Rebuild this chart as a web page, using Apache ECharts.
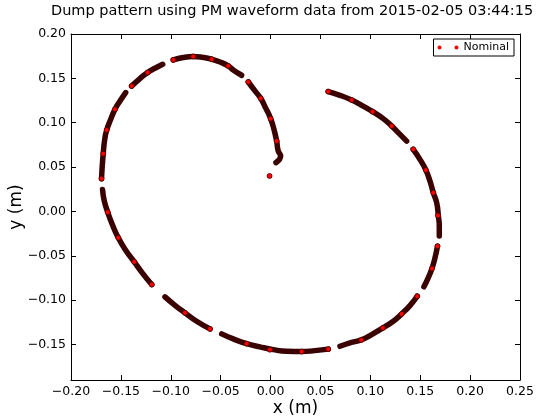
<!DOCTYPE html>
<html>
<head>
<meta charset="utf-8">
<script src="https://cdn.jsdelivr.net/npm/echarts@6/dist/echarts.min.js"></script>
<style>
html, body { margin: 0; padding: 0; background: #fff; }
#DumpPattern { width: 541px; height: 416px; }
</style>
</head>
<body>
<div id="DumpPattern"></div>
<script>
// tick labels
const xTicks = [-0.20, -0.15, -0.10, -0.05, 0.00, 0.05, 0.10, 0.15, 0.20, 0.25];
const yTicks = [-0.15, -0.10, -0.05, 0.00, 0.05, 0.10, 0.15, 0.20];

// spiral track, one array per continuous stretch [x, y] in m
const seg1 = [[0.0054, 0.0550], [0.0101, 0.0624], [0.0077, 0.0681], [0.0061, 0.0793], [0.0034, 0.0926],
    [0.0001, 0.1046], [-0.0046, 0.1159], [-0.0099, 0.1275], [-0.0156, 0.1358], [-0.0223, 0.1459]];
const seg2 = [[-0.0290, 0.1535], [-0.0374, 0.1595], [-0.0424, 0.1640], [-0.0507, 0.1685], [-0.0590, 0.1716],
    [-0.0674, 0.1735], [-0.0775, 0.1746], [-0.0875, 0.1735], [-0.0975, 0.1708]];
const seg3 = [[-0.1081, 0.1659], [-0.1159, 0.1614], [-0.1232, 0.1566], [-0.1309, 0.1498], [-0.1392, 0.1414]];
const seg4 = [[-0.1452, 0.1340], [-0.1509, 0.1245], [-0.1559, 0.1151], [-0.1602, 0.1038], [-0.1642, 0.0918],
    [-0.1662, 0.0813], [-0.1677, 0.0651], [-0.1687, 0.0511], [-0.1694, 0.0369]];
const seg5 = [[-0.1684, 0.0248], [-0.1666, 0.0116], [-0.1632, -0.0008], [-0.1586, -0.0147], [-0.1526, -0.0297],
    [-0.1452, -0.0437], [-0.1366, -0.0568], [-0.1286, -0.0692], [-0.1191, -0.0824]];
const seg6 = [[-0.1058, -0.0963], [-0.0958, -0.1058], [-0.0858, -0.1143], [-0.0741, -0.1238], [-0.0607, -0.1324]];
const seg7 = [[-0.0490, -0.1380], [-0.0374, -0.1437], [-0.0240, -0.1490], [-0.0106, -0.1527], [0.0027, -0.1558],
    [0.0161, -0.1577], [0.0312, -0.1580], [0.0445, -0.1569], [0.0578, -0.1552]];
const seg8 = [[0.0696, -0.1520], [0.0796, -0.1482], [0.0909, -0.1448], [0.1013, -0.1388], [0.1126, -0.1313],
    [0.1230, -0.1238], [0.1314, -0.1155], [0.1397, -0.1061], [0.1470, -0.0956]];
const seg9 = [[0.1537, -0.0850], [0.1580, -0.0748], [0.1618, -0.0643], [0.1648, -0.0523], [0.1673, -0.0392]];
const seg10 = [[0.1691, -0.0277], [0.1691, -0.0166], [0.1682, -0.0051], [0.1665, 0.0098], [0.1631, 0.0211],
    [0.1598, 0.0342], [0.1557, 0.0466], [0.1497, 0.0587], [0.1430, 0.0700]];
const seg11 = [[0.1364, 0.0793], [0.1280, 0.0888], [0.1214, 0.0963], [0.1129, 0.1046], [0.1023, 0.1125],
    [0.0913, 0.1196], [0.0813, 0.1256], [0.0696, 0.1309], [0.0578, 0.1351]];

// bright red markers that show through on top of the track (first one is the lone centre point)
const redDots = [[-0.001, 0.040], [-0.0099, 0.1275], [0.0001, 0.1046], [0.0061, 0.0793], [-0.0223, 0.1459],
    [-0.0424, 0.1640], [-0.0590, 0.1716], [-0.0775, 0.1746], [-0.0975, 0.1708], [-0.1232, 0.1566],
    [-0.1392, 0.1414], [-0.1559, 0.1151], [-0.1642, 0.0918], [-0.1677, 0.0651], [-0.1694, 0.0369],
    [-0.1632, -0.0008], [-0.1526, -0.0297], [-0.1366, -0.0568], [-0.1191, -0.0824], [-0.0858, -0.1143],
    [-0.0607, -0.1324], [-0.0240, -0.1490], [-0.0006, -0.1558], [0.0312, -0.1580], [0.0578, -0.1552],
    [0.0909, -0.1448], [0.1126, -0.1313], [0.1314, -0.1155], [0.1470, -0.0956], [0.1618, -0.0643],
    [0.1673, -0.0392], [0.1677, -0.0045], [0.1631, 0.0211], [0.1557, 0.0466], [0.1430, 0.0700],
    [0.1214, 0.0963], [0.1023, 0.1125], [0.0813, 0.1256], [0.0578, 0.1351]];

const segments = [seg1, seg2, seg3, seg4, seg5, seg6, seg7, seg8, seg9, seg10, seg11];
const trackData = [];
segments.forEach((s) => {
    s.forEach((p) => trackData.push(p));
    trackData.push(null); // gap between stretches
});

const font = 'DejaVu Sans';
const fmt = (v) => (v < 0 ? '\u2212' + Math.abs(v).toFixed(2) : v.toFixed(2));

const myChart = echarts.init(document.getElementById('DumpPattern'));
const baseX = {
    type: 'value', min: -0.2, max: 0.25,
    axisLine: {onZero: false, lineStyle: {color: '#000', width: 1}},
    axisTick: {inside: true, length: 5, customValues: xTicks, lineStyle: {color: '#000'}},
    splitLine: {show: false},
};
const baseY = {
    type: 'value', min: -0.19, max: 0.2,
    axisLine: {onZero: false, lineStyle: {color: '#000', width: 1}},
    axisTick: {inside: true, length: 5, customValues: yTicks, lineStyle: {color: '#000'}},
    splitLine: {show: false},
};
const option = {
    animation: false,
    title: {
        text: 'Dump pattern using PM waveform data from 2015-02-05 03:44:15',
        left: 51, top: 4, padding: 0,
        textStyle: {fontFamily: font, fontSize: 14.5, fontWeight: 'normal', color: '#000'},
    },
    legend: {
        data: [{name: 'Nominal', itemStyle: {color: '#ff0000', borderWidth: 0}}],
        right: 27, top: 39,
        orient: 'vertical',
        borderColor: '#000', borderWidth: 1, borderRadius: 0,
        padding: [3, 5, 3, 4],
        itemWidth: 21, itemHeight: 4, itemGap: 5,
        icon: 'path://M0,2a2,2 0 1,0 4,0a2,2 0 1,0 -4,0M17,2a2,2 0 1,0 4,0a2,2 0 1,0 -4,0',
        textStyle: {fontFamily: font, fontSize: 11, color: '#000'},
    },
    grid: {left: 71, right: 21, top: 34, bottom: 36, outerBoundsMode: 'none', containLabel: false},
    xAxis: [
        Object.assign({}, baseX, {
            position: 'bottom',
            name: 'x (m)', nameLocation: 'middle', nameGap: 20, nameMoveOverlap: false,
            nameTextStyle: {fontFamily: font, fontSize: 17, color: '#000'},
            axisLabel: {customValues: xTicks, formatter: fmt, margin: 5, fontFamily: font, fontSize: 12.5, color: '#000'},
        }),
        Object.assign({}, baseX, {position: 'top', axisLabel: {show: false}}),
    ],
    yAxis: [
        Object.assign({}, baseY, {
            position: 'left',
            name: 'y (m)', nameLocation: 'middle', nameGap: 46, nameRotate: 90, nameMoveOverlap: false,
            nameTextStyle: {fontFamily: font, fontSize: 17, color: '#000'},
            axisLabel: {customValues: yTicks, formatter: fmt, margin: 5, fontFamily: font, fontSize: 12.5, color: '#000'},
        }),
        Object.assign({}, baseY, {position: 'right', axisLabel: {show: false}}),
    ],
    series: [
        {
            type: 'line',
            data: trackData,
            showSymbol: false,
            smooth: true,
            connectNulls: false,
            z: 2,
            lineStyle: {color: '#3b0202', width: 5.5, cap: 'round', join: 'round'},
            silent: true,
        },
        {
            name: 'Nominal',
            type: 'scatter',
            data: redDots,
            symbolSize: 5,
            z: 5,
            itemStyle: {color: '#ff0000', borderColor: '#3b0202', borderWidth: 0.8, opacity: 1},
        },
    ],
};
myChart.setOption(option);
</script>
</body>
</html>
